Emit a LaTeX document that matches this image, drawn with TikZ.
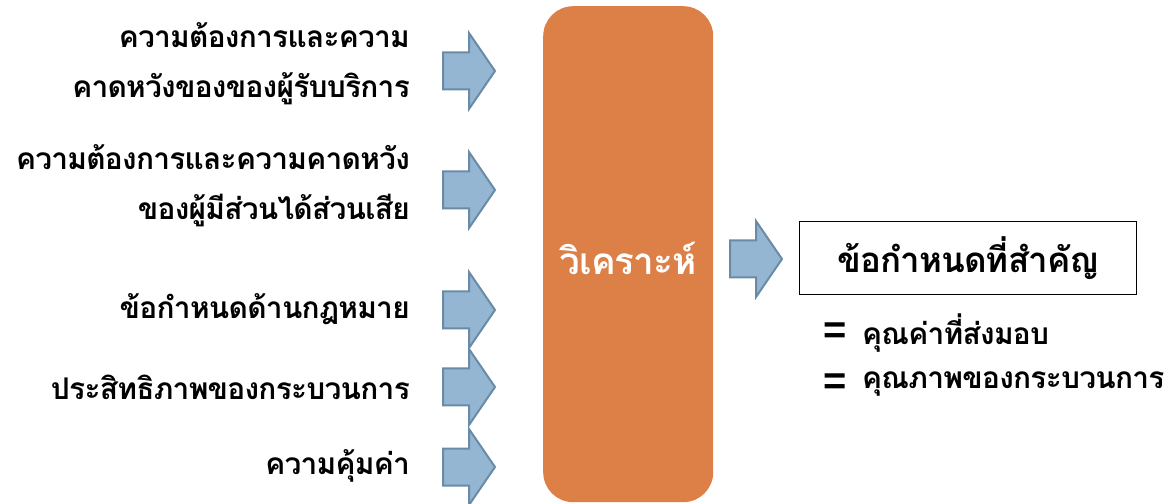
\documentclass[tikz,border=0pt]{standalone}
\usepackage{fontspec}
\newfontfamily\thaifont[Script=Thai,LetterSpace=-2.5]{Loma}
\newfontfamily\eqfont{Liberation Sans}
\definecolor{orangebox}{HTML}{DD8047}
\definecolor{arrowfill}{HTML}{94B6D2}
\definecolor{arrowline}{HTML}{6A8BA5}
\tikzset{
  lbl/.style={font=\thaifont\bfseries\fontsize{30}{50}\selectfont, anchor=east, align=right, inner sep=0pt, text=black},
  rlbl/.style={font=\thaifont\bfseries\fontsize{30}{40}\selectfont, anchor=west, inner sep=0pt, text=black},
  eqs/.style={font=\eqfont\bfseries\fontsize{40}{40}\selectfont, inner sep=0pt, text=black},
  fat/.pic={\draw[arrowline, fill=arrowfill, line width=2bp, line join=miter]
     (0,-18.5) -- (26,-18.5) -- (26,-38) -- (52,0) -- (26,38) -- (26,18.5) -- (0,18.5) -- cycle;}
}
\begin{document}
\begin{tikzpicture}[x=1bp,y=-1bp]
\useasboundingbox (0,0) rectangle (1176,504);
% central box
\node[fill=orangebox, rounded corners=30bp, minimum width=170bp, minimum height=496bp, inner sep=0pt, anchor=north west] (ana) at (543,6) {};
\node[font=\thaifont\bfseries\fontsize{37}{44}\selectfont, text=white, inner sep=0pt] (analbl) at (628,258) {วิเคราะห์};
% input arrows
\pic (a1) at (443,71) {fat};
\pic (a2) at (443,190) {fat};
\pic (a3) at (443,310) {fat};
\pic (a4) at (443,387) {fat};
\pic (a5) at (443,467) {fat};
% labels
\node[lbl] (t1) at (410,64) {ความต้องการและความ\\คาดหวังของของผู้รับบริการ};
\node[lbl] (t2) at (410,186) {ความต้องการและความคาดหวัง\\ของผู้มีส่วนได้ส่วนเสีย};
\node[lbl] (t3) at (410,309) {ข้อกำหนดด้านกฎหมาย};
\node[lbl] (t4) at (410,387) {ประสิทธิภาพของกระบวนการ};
\node[lbl] (t5) at (410,466) {ความคุ้มค่า};
% output arrow
\pic (ao) at (730,259) {fat};
\node[draw=black, line width=1.3pt, minimum width=337bp, minimum height=73bp, inner sep=0pt, anchor=north west] (req) at (799,221) {};
\node[font=\thaifont\bfseries\fontsize{35}{40}\selectfont, inner sep=0pt] (reqlbl) at (req.center) {ข้อกำหนดที่สำคัญ};
\node[eqs, anchor=west] (e1) at (823,333) {=};
\node[eqs, anchor=west] (e2) at (823,384) {=};
\node[rlbl] (r1) at (862,333) {คุณค่าที่ส่งมอบ};
\node[rlbl] (r2) at (862,384) {คุณภาพของกระบวนการ};
\end{tikzpicture}
\end{document}
